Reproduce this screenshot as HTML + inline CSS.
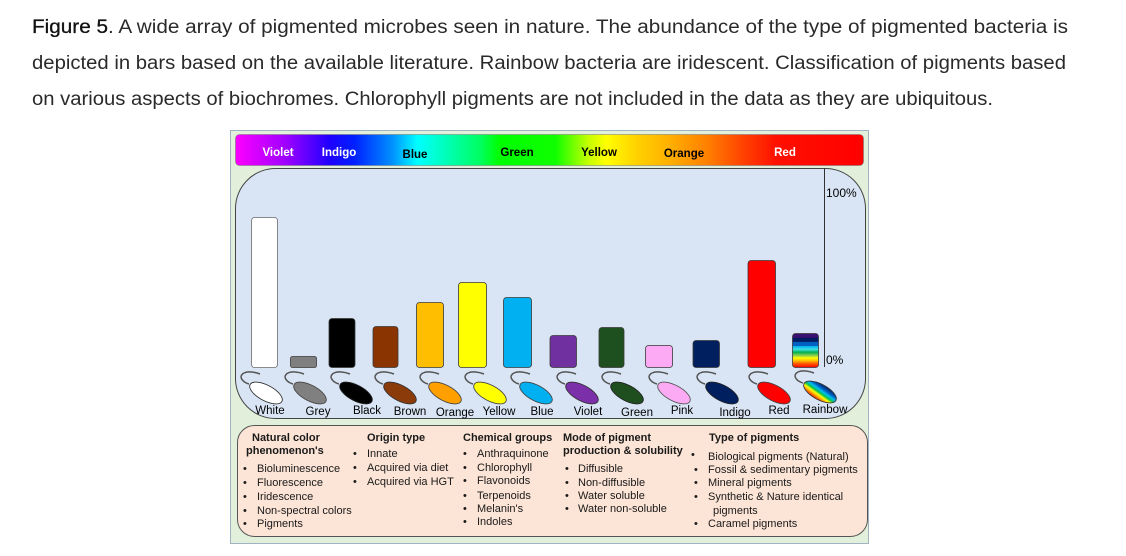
<!DOCTYPE html>
<html><head><meta charset="utf-8"><style>
html,body{margin:0;padding:0;background:#fff;width:1126px;height:556px;overflow:hidden}
svg{display:block}
text{font-family:"Liberation Sans",Arial,sans-serif}
</style></head><body>
<svg width="1126" height="556" viewBox="0 0 1126 556" xmlns="http://www.w3.org/2000/svg">
<defs>
<linearGradient id="spec" x1="235" y1="0" x2="864" y2="0" gradientUnits="userSpaceOnUse">
<stop offset="0" stop-color="#ff00ff"/>
<stop offset="0.08" stop-color="#a000ff"/>
<stop offset="0.15" stop-color="#2000ff"/>
<stop offset="0.19" stop-color="#0020ff"/>
<stop offset="0.25" stop-color="#0090ff"/>
<stop offset="0.29" stop-color="#00ffff"/>
<stop offset="0.32" stop-color="#00ffd0"/>
<stop offset="0.39" stop-color="#00ff60"/>
<stop offset="0.42" stop-color="#00ff00"/>
<stop offset="0.51" stop-color="#10ff00"/>
<stop offset="0.56" stop-color="#c0ff00"/>
<stop offset="0.59" stop-color="#ffff00"/>
<stop offset="0.64" stop-color="#ffd000"/>
<stop offset="0.69" stop-color="#ffb000"/>
<stop offset="0.75" stop-color="#ff8000"/>
<stop offset="0.81" stop-color="#ff4000"/>
<stop offset="0.86" stop-color="#ff1000"/>
<stop offset="1" stop-color="#ff0000"/>
</linearGradient>
<linearGradient id="rbar" x1="0" y1="0" x2="0" y2="1">
<stop offset="0" stop-color="#3a1070"/>
<stop offset="0.12" stop-color="#3a1070"/>
<stop offset="0.13" stop-color="#001a60"/>
<stop offset="0.24" stop-color="#001a60"/>
<stop offset="0.25" stop-color="#0060c0"/>
<stop offset="0.36" stop-color="#0060c0"/>
<stop offset="0.37" stop-color="#00b0f0"/>
<stop offset="0.47" stop-color="#40e0e0"/>
<stop offset="0.55" stop-color="#00b050"/>
<stop offset="0.65" stop-color="#92d050"/>
<stop offset="0.72" stop-color="#ffff00"/>
<stop offset="0.8" stop-color="#ffc000"/>
<stop offset="0.88" stop-color="#ff6000"/>
<stop offset="1" stop-color="#ff0000"/>
</linearGradient>
<linearGradient id="rcap" x1="0.35" y1="1" x2="0.65" y2="0">
<stop offset="0" stop-color="#ff0000"/>
<stop offset="0.18" stop-color="#ffa000"/>
<stop offset="0.32" stop-color="#ffff00"/>
<stop offset="0.46" stop-color="#00c050"/>
<stop offset="0.6" stop-color="#00c0f0"/>
<stop offset="0.75" stop-color="#0060c0"/>
<stop offset="1" stop-color="#001a60"/>
</linearGradient>
</defs>

<!-- caption -->
<g font-size="19" fill="#2a2a2a">
<text x="32" y="33" textLength="1036" lengthAdjust="spacingAndGlyphs"><tspan fill="#111" stroke="#111" stroke-width="0.3">Figure 5</tspan>. A wide array of pigmented microbes seen in nature. The abundance of the type of pigmented bacteria is</text>
<text x="32" y="69" textLength="1034" lengthAdjust="spacingAndGlyphs">depicted in bars based on the available literature. Rainbow bacteria are iridescent. Classification of pigments based</text>
<text x="32" y="105" textLength="961" lengthAdjust="spacingAndGlyphs">on various aspects of biochromes. Chlorophyll pigments are not included in the data as they are ubiquitous.</text>
</g>

<!-- figure frame -->
<rect x="230.5" y="130.5" width="638" height="413" fill="#e2efda" stroke="#9fb3c2" stroke-width="1"/>

<!-- spectrum bar -->
<rect x="235.5" y="134.5" width="628" height="31" rx="4" fill="url(#spec)" stroke="#777" stroke-width="0.6"/>
<g font-size="11.5" font-weight="bold">
<text x="278" y="156" text-anchor="middle" fill="#fff">Violet</text>
<text x="339" y="156" text-anchor="middle" fill="#fff">Indigo</text>
<text x="415" y="158" text-anchor="middle" fill="#000">Blue</text>
<text x="517" y="156" text-anchor="middle" fill="#000">Green</text>
<text x="599" y="156" text-anchor="middle" fill="#000">Yellow</text>
<text x="684" y="157" text-anchor="middle" fill="#000">Orange</text>
<text x="785" y="156" text-anchor="middle" fill="#fff">Red</text>
</g>

<!-- chart panel -->
<rect x="235.5" y="168.5" width="630" height="250" rx="40" ry="40" fill="#d9e5f5" stroke="#444" stroke-width="1"/>
<line x1="824.5" y1="168" x2="824.5" y2="367" stroke="#333" stroke-width="1"/>
<text x="826" y="197" font-size="12" fill="#000">100%</text>
<text x="826" y="364" font-size="12" fill="#000">0%</text>

<!-- bars -->
<g stroke="#3a3a3a" stroke-width="0.8">
<rect x="251.5" y="217.5" width="26" height="150" rx="3" fill="#ffffff" stroke="#6a6a6a"/>
<rect x="290.5" y="356.5" width="26" height="11" rx="2" fill="#7f7f7f"/>
<rect x="329" y="318.5" width="26" height="49" rx="3" fill="#000000"/>
<rect x="373" y="326.5" width="25" height="41" rx="3" fill="#8a3402"/>
<rect x="416.5" y="302.5" width="27" height="65" rx="3" fill="#ffbf00"/>
<rect x="458.5" y="282.5" width="28" height="85" rx="3" fill="#ffff00"/>
<rect x="503.5" y="297.5" width="28" height="70" rx="3" fill="#00b0f0"/>
<rect x="550" y="335.5" width="26.5" height="32" rx="3" fill="#7030a0"/>
<rect x="599" y="327.5" width="25" height="40" rx="3" fill="#1e4f1e"/>
<rect x="645.5" y="345.5" width="27" height="22" rx="3" fill="#fcaaf4"/>
<rect x="693" y="340.5" width="26.5" height="27" rx="3" fill="#001f5f"/>
<rect x="748" y="260.5" width="27.5" height="107" rx="3" fill="#ff0000"/>
<rect x="792.5" y="333.5" width="26" height="34" rx="3" fill="url(#rbar)"/>
</g>

<!-- bacteria -->
<g stroke-width="0.9">
<g transform="translate(266,393)"><path d="M-17,-9 C-24,-11 -28,-17 -22,-20 C-18,-22 -11,-21 -6,-19" fill="none" stroke="#555" stroke-width="1.5"/><ellipse rx="18" ry="7.8" transform="rotate(28)" fill="#ffffff" stroke="#333"/></g>
<g transform="translate(310,393)"><path d="M-17,-9 C-24,-11 -28,-17 -22,-20 C-18,-22 -11,-21 -6,-19" fill="none" stroke="#555" stroke-width="1.5"/><ellipse rx="18" ry="7.8" transform="rotate(28)" fill="#808080" stroke="#444"/></g>
<g transform="translate(356,393)"><path d="M-17,-9 C-24,-11 -28,-17 -22,-20 C-18,-22 -11,-21 -6,-19" fill="none" stroke="#555" stroke-width="1.5"/><ellipse rx="18" ry="7.8" transform="rotate(28)" fill="#000000" stroke="#222"/></g>
<g transform="translate(400,393)"><path d="M-17,-9 C-24,-11 -28,-17 -22,-20 C-18,-22 -11,-21 -6,-19" fill="none" stroke="#555" stroke-width="1.5"/><ellipse rx="18" ry="7.8" transform="rotate(28)" fill="#8b3a0a" stroke="#333"/></g>
<g transform="translate(445,393)"><path d="M-17,-9 C-24,-11 -28,-17 -22,-20 C-18,-22 -11,-21 -6,-19" fill="none" stroke="#555" stroke-width="1.5"/><ellipse rx="18" ry="7.8" transform="rotate(28)" fill="#ffa000" stroke="#444"/></g>
<g transform="translate(490,393)"><path d="M-17,-9 C-24,-11 -28,-17 -22,-20 C-18,-22 -11,-21 -6,-19" fill="none" stroke="#555" stroke-width="1.5"/><ellipse rx="18" ry="7.8" transform="rotate(28)" fill="#ffff00" stroke="#444"/></g>
<g transform="translate(536,393)"><path d="M-17,-9 C-24,-11 -28,-17 -22,-20 C-18,-22 -11,-21 -6,-19" fill="none" stroke="#555" stroke-width="1.5"/><ellipse rx="18" ry="7.8" transform="rotate(28)" fill="#00b0f0" stroke="#444"/></g>
<g transform="translate(582,393)"><path d="M-17,-9 C-24,-11 -28,-17 -22,-20 C-18,-22 -11,-21 -6,-19" fill="none" stroke="#555" stroke-width="1.5"/><ellipse rx="18" ry="7.8" transform="rotate(28)" fill="#7b2fa8" stroke="#333"/></g>
<g transform="translate(627,393)"><path d="M-17,-9 C-24,-11 -28,-17 -22,-20 C-18,-22 -11,-21 -6,-19" fill="none" stroke="#555" stroke-width="1.5"/><ellipse rx="18" ry="7.8" transform="rotate(28)" fill="#1f4e1f" stroke="#222"/></g>
<g transform="translate(674,393)"><path d="M-17,-9 C-24,-11 -28,-17 -22,-20 C-18,-22 -11,-21 -6,-19" fill="none" stroke="#555" stroke-width="1.5"/><ellipse rx="18" ry="7.8" transform="rotate(28)" fill="#fcaaf4" stroke="#555"/></g>
<g transform="translate(722,393)"><path d="M-17,-9 C-24,-11 -28,-17 -22,-20 C-18,-22 -11,-21 -6,-19" fill="none" stroke="#555" stroke-width="1.5"/><ellipse rx="18" ry="7.8" transform="rotate(28)" fill="#001f5f" stroke="#222"/></g>
<g transform="translate(774,393)"><path d="M-17,-9 C-24,-11 -28,-17 -22,-20 C-18,-22 -11,-21 -6,-19" fill="none" stroke="#555" stroke-width="1.5"/><ellipse rx="18" ry="7.8" transform="rotate(28)" fill="#ff0000" stroke="#444"/></g>
<g transform="translate(820,392)"><path d="M-17,-9 C-24,-11 -28,-17 -22,-20 C-18,-22 -11,-21 -6,-19" fill="none" stroke="#555" stroke-width="1.5"/><ellipse rx="18" ry="7.8" transform="rotate(28)" fill="url(#rcap)" stroke="#333"/></g>
</g>

<!-- bacteria labels -->
<g font-size="11.5" fill="#000" text-anchor="middle">
<text x="270" y="414">White</text>
<text x="318" y="415">Grey</text>
<text x="367" y="414">Black</text>
<text x="410" y="415">Brown</text>
<text x="455" y="416">Orange</text>
<text x="499" y="415">Yellow</text>
<text x="542" y="415">Blue</text>
<text x="588" y="415">Violet</text>
<text x="637" y="416">Green</text>
<text x="682" y="414">Pink</text>
<text x="735" y="416">Indigo</text>
<text x="779" y="414">Red</text>
<text x="825" y="413">Rainbow</text>
</g>

<!-- bottom box -->
<rect x="237.5" y="425.5" width="630" height="111" rx="17" ry="17" fill="#fce4d6" stroke="#555" stroke-width="1"/>
<g font-size="11" fill="#1a1a1a">
<g font-weight="bold">
<text x="252" y="441">Natural color</text>
<text x="246" y="454">phenomenon's</text>
<text x="367" y="441">Origin type</text>
<text x="463" y="441">Chemical groups</text>
<text x="563" y="441">Mode of pigment</text>
<text x="563" y="454">production &amp; solubility</text>
<text x="709" y="441">Type of pigments</text>
</g>
<text x="243" y="472">•</text><text x="257" y="472">Bioluminescence</text>
<text x="243" y="486">•</text><text x="257" y="486">Fluorescence</text>
<text x="243" y="500">•</text><text x="257" y="500">Iridescence</text>
<text x="243" y="514">•</text><text x="257" y="514">Non-spectral colors</text>
<text x="243" y="527">•</text><text x="257" y="527">Pigments</text>
<text x="353" y="457">•</text><text x="367" y="457">Innate</text>
<text x="353" y="471">•</text><text x="367" y="471">Acquired via diet</text>
<text x="353" y="485">•</text><text x="367" y="485">Acquired via HGT</text>
<text x="463" y="457">•</text><text x="477" y="457">Anthraquinone</text>
<text x="463" y="471">•</text><text x="477" y="471">Chlorophyll</text>
<text x="463" y="484">•</text><text x="477" y="484">Flavonoids</text>
<text x="463" y="499">•</text><text x="477" y="499">Terpenoids</text>
<text x="463" y="512">•</text><text x="477" y="512">Melanin's</text>
<text x="463" y="525">•</text><text x="477" y="525">Indoles</text>
<text x="565" y="472">•</text><text x="578" y="472">Diffusible</text>
<text x="565" y="486">•</text><text x="578" y="486">Non-diffusible</text>
<text x="565" y="499">•</text><text x="578" y="499">Water soluble</text>
<text x="565" y="512">•</text><text x="578" y="512">Water non-soluble</text>
<text x="691" y="458">•</text><text x="708" y="460">Biological pigments (Natural)</text>
<text x="694" y="473">•</text><text x="708" y="473">Fossil &amp; sedimentary pigments</text>
<text x="694" y="486">•</text><text x="708" y="486">Mineral pigments</text>
<text x="694" y="500">•</text><text x="708" y="500">Synthetic &amp; Nature identical</text>
<text x="713" y="514">pigments</text>
<text x="694" y="527">•</text><text x="708" y="527">Caramel pigments</text>
</g>
</svg>
</body></html>
